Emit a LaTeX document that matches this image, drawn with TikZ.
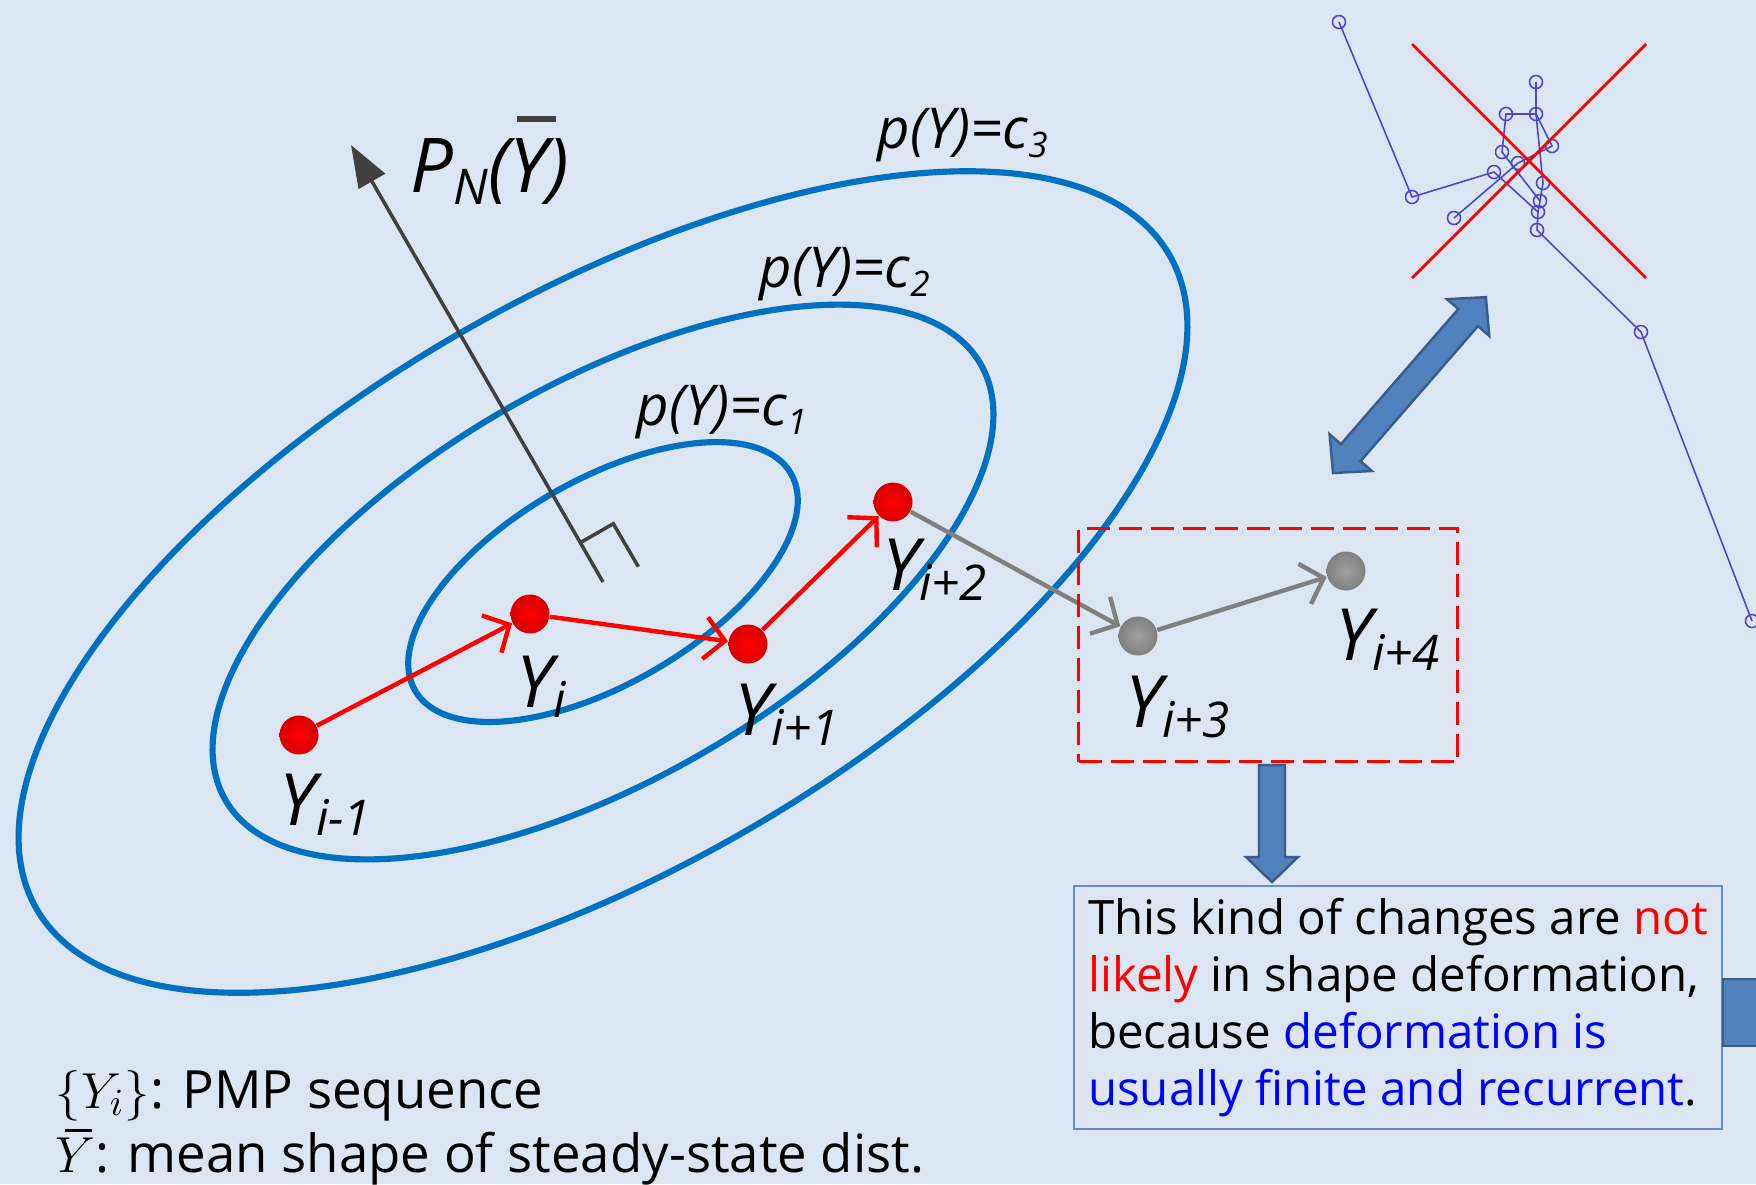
\documentclass[tikz,border=0pt]{standalone}
\usepackage{fontspec}
\setmainfont{Open Sans}
\usepackage{xcolor}
\usepackage{tikz}
\usetikzlibrary{calc, arrows.meta}

\definecolor{bgblue}{RGB}{220,230,242}
\definecolor{contourblue}{RGB}{0,112,192}
\definecolor{blockfill}{RGB}{79,129,189}
\definecolor{blockedge}{RGB}{56,93,138}
\definecolor{normalgray}{RGB}{64,64,64}
\definecolor{stepgray}{RGB}{128,128,128}
\definecolor{stickblue}{RGB}{72,72,200}
\definecolor{boxedge}{RGB}{100,140,200}

\newcommand{\seqY}[1]{Y\raisebox{-3pt}{\fontsize{14}{14}\selectfont #1}}
\newcommand{\levc}[1]{p(Y)=c\raisebox{-2.8pt}{\fontsize{10}{10}\selectfont #1}}

\begin{document}
\begin{tikzpicture}[x=0.1mm, y=-0.1mm, >=stealth,
    contour/.style={draw=contourblue, line width=1.75pt},
    pt/.style={circle, minimum size=3.9mm, inner sep=0pt},
    redpt/.style={pt, inner color=red, outer color=red!85!black},
    graypt/.style={pt, inner color=stepgray!75!white, outer color=stepgray},
    lab/.style={anchor=base west, inner sep=0pt, font=\fontsize{20.5}{24}\selectfont\itshape},
    clab/.style={anchor=base west, inner sep=0pt, font=\fontsize{16}{18}\selectfont\itshape},
    walk/.style={-{Straight Barb[length=2mm,width=4.2mm]}, line width=1.25pt},
    block/.style={fill=blockfill, draw=blockedge, line width=0.7pt, line join=miter},
    stick/.style={draw=stickblue, line width=0.45pt}]
    \fill[bgblue] (0,0) rectangle (1756,1184);
    \useasboundingbox (0,0) rectangle (1756,1184);

    \coordinate (ctr) at (603,582);
    \draw[contour, rotate around={30:(ctr)}] (ctr) ellipse [x radius=217, y radius=102];
    \draw[contour, rotate around={30:(ctr)}] (ctr) ellipse [x radius=436, y radius=198];
    \draw[contour, rotate around={30:(ctr)}] (ctr) ellipse [x radius=654, y radius=287];
    \node[clab] (c1) at (636,425) {\levc{1}};
    \node[clab] (c2) at (759,287) {\levc{2}};
    \node[clab] (c3) at (877,148) {\levc{3}};

    \coordinate (tipN) at ($(ctr)+(-252,-437)$);
    \draw[-{Triangle[length=4.2mm,width=3mm]}, normalgray, line width=1pt] (ctr) -- (tipN);
    \draw[normalgray, line width=1pt] ($(ctr)!0.09!(tipN)$) -- ++(33,-19) -- ++(25,43);
    \node[lab, font=\fontsize{21.5}{24}\selectfont\itshape] (pn) at (410,192)
        {P\raisebox{-3.5pt}{\fontsize{14}{14}\selectfont N}(\makebox[0pt][l]{\kern.1em\raisebox{.92em}{\color{normalgray}\rule{.52em}{.08em}}}Y)};

    \node[redpt] (ym1) at (299,735) {};
    \node[redpt] (y0) at (530,614) {};
    \node[redpt] (yp1) at (748,644) {};
    \node[redpt] (yp2) at (893,502) {};
    \node[graypt] (yp3) at (1138,636) {};
    \node[graypt] (yp4) at (1346,571) {};

    \draw[walk, red] (ym1) -- (y0);
    \draw[walk, red] (y0) -- (yp1);
    \draw[walk, red] (yp1) -- (yp2);
    \draw[walk, stepgray] (yp2) -- (yp3);
    \draw[walk, stepgray] (yp3) -- (yp4);

    \node[lab] (lym1) at ($(ym1)+(-20,90)$) {\seqY{i-1}};
    \node[lab] (ly0) at ($(y0)+(-14,93)$) {\seqY{i}};
    \node[lab] (lyp1) at ($(yp1)+(-14,91)$) {\seqY{i+1}};
    \node[lab] (lyp2) at ($(yp2)+(-11,88)$) {\seqY{i+2}};
    \node[lab] (lyp3) at ($(yp3)+(-13,91)$) {\seqY{i+3}};
    \node[lab] (lyp4) at ($(yp4)+(-11,89)$) {\seqY{i+4}};

    \node[draw=red, line width=0.85pt, dash pattern=on 2.3mm off 0.9mm, anchor=north west,
        minimum width=37.9mm, minimum height=23.3mm, inner sep=0pt] (frame) at (1077,527) {};
    \draw[block] (1259,765) -- (1285,765) -- (1285,857) -- (1298,857) -- (1272,882)
        -- (1246,857) -- (1259,857) -- cycle;

    \node[anchor=north west, draw=boxedge, line width=0.6pt, align=left,
        minimum width=64.8mm, minimum height=24.1mm, inner xsep=1.4mm, inner ysep=1.2mm,
        font=\fontsize{13.5}{16.2}\selectfont] (note) at (1073,885)
        {This kind of changes are \textcolor{red}{not}\\
         \textcolor{red}{likely} in shape deformation,\\
         because \textcolor{blue}{deformation is}\\
         \textcolor{blue}{usually finite and recurrent}.};
    \draw[block] (1723,979) rectangle (1790,1046);

    \begin{scope}[shift={(1333,473)}, rotate=49]
        \draw[block] (0,0) -- (27,-28) -- (27,-13) -- (206,-13) -- (206,-28) -- (233,0)
            -- (206,28) -- (206,13) -- (27,13) -- (27,28) -- cycle;
    \end{scope}

    \coordinate (s1) at (1339,22);
    \coordinate (s2) at (1412,197);
    \coordinate (s3) at (1494,172);
    \coordinate (s4) at (1454,218);
    \coordinate (s5) at (1502,152);
    \coordinate (s6) at (1506,114);
    \coordinate (s7) at (1536,114);
    \coordinate (s8) at (1536,82);
    \coordinate (s9) at (1552,146);
    \coordinate (s10) at (1518,163);
    \coordinate (s11) at (1543,183);
    \coordinate (s12) at (1540,201);
    \coordinate (s13) at (1538,212);
    \coordinate (s14) at (1537,230);
    \coordinate (s15) at (1641,332);
    \coordinate (s16) at (1752,621);
    \draw[stick] (s1) -- (s2) -- (s3) -- (s13) -- (s14) -- (s15) -- (s16);
    \draw[stick] (s4) -- (s10) -- (s9) -- (s7) -- (s8);
    \draw[stick] (s12) -- (s5) -- (s6) -- (s7) -- (s11) -- (s12) -- (s13);
    \foreach \n in {1,...,16}
        \draw[stick] (s\n) circle [radius=6.5];
    \draw[red, line width=0.8pt] (1412,44) -- (1646,278);
    \draw[red, line width=0.8pt] (1646,44) -- (1412,278);

    \node[anchor=base west, inner sep=0pt, text depth=0pt, font=\fontsize{15}{18}\selectfont] (leg1) at (55,1108)
        {$\{Y_i\}$: PMP sequence};
    \node[anchor=base west, inner sep=0pt, text height=3.6mm, font=\fontsize{15}{18}\selectfont] (leg2) at (55,1172)
        {\makebox[0pt][l]{\kern.18em\raisebox{.76em}{\rule{.5em}{.05em}}}$Y$: mean shape of steady-state dist.};
\end{tikzpicture}
\end{document}
